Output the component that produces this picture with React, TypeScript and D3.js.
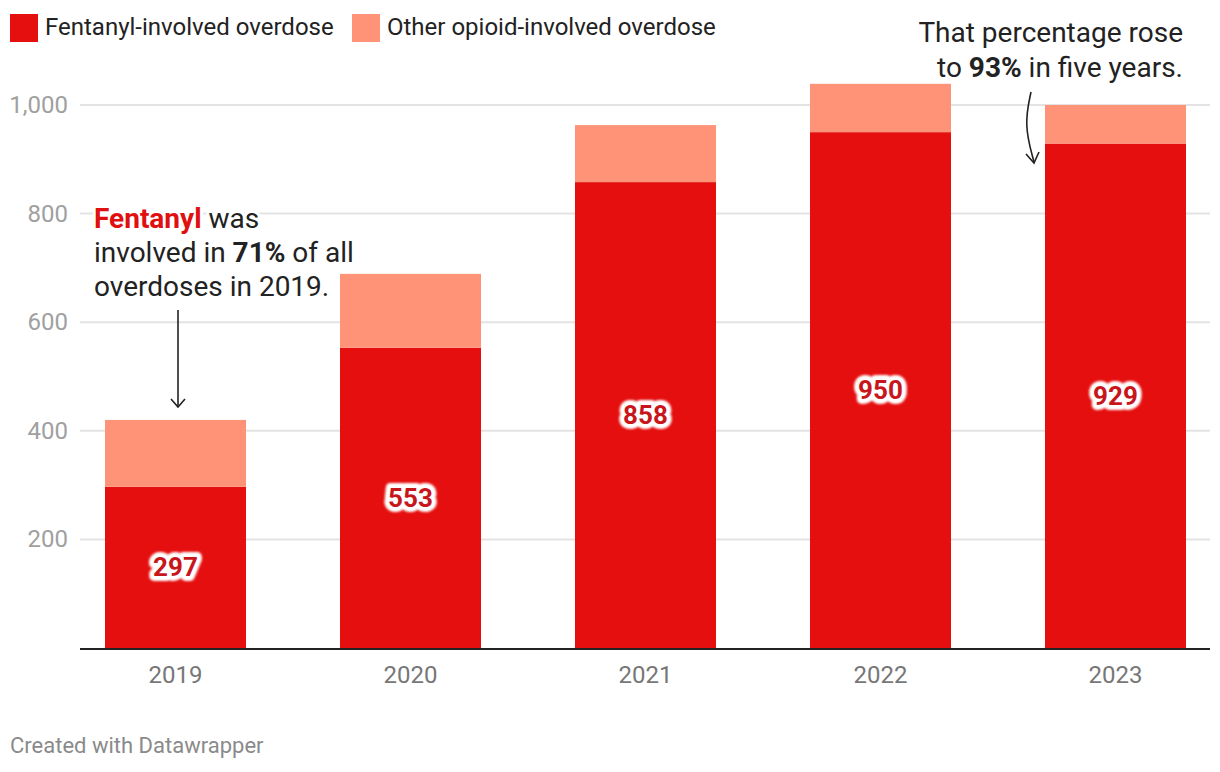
import React from "react";
import * as d3 from "d3";

const years = ["2019", "2020", "2021", "2022", "2023"];
const fentanyl = [297, 553, 858, 950, 929];
const otherOpioid = [123, 136, 105, 89, 71];
const yTicks = [200, 400, 600, 800, 1000];

const W = 1220;
const H = 772;
const FONT = "Roboto, 'Noto Sans', sans-serif";
const RED = "#e60f0f";
const SALMON = "#ff9378";

export default function App() {
  const x = d3.scaleBand<string>().domain(years).range([58, 1233]).paddingInner(0.4).paddingOuter(0.2);
  const y = d3.scaleLinear().domain([0, 1000]).range([648, 105]);

  const stackData = years.map((yr, i) => ({ year: yr, fentanyl: fentanyl[i], other: otherOpioid[i] }));
  const series = d3.stack<any>().keys(["fentanyl", "other"])(stackData);
  const colors = [RED, SALMON];

  const arrow2023 = d3.line<[number, number]>().curve(d3.curveBasis)([
    [1031, 92],
    [1024, 125],
    [1034, 162],
  ]);

  const halo = { paintOrder: "stroke" as const };

  return (
    <svg width={W} height={H} style={{ position: "absolute", left: 0, top: 0 }} fontFamily={FONT}>
      <defs>
        <filter id="soft" x="-20%" y="-40%" width="140%" height="180%">
          <feGaussianBlur stdDeviation="0.8" />
        </filter>
      </defs>
      <rect x={0} y={0} width={W} height={H} fill="#fff" />
      {/* legend */}
      <rect x={10} y={14} width={28} height={28} fill={RED} />
      <text x={45} y={35} fontSize={24} fill="#222">Fentanyl-involved overdose</text>
      <rect x={352} y={14} width={28} height={28} fill={SALMON} />
      <text x={387} y={35} fontSize={24} fill="#222">Other opioid-involved overdose</text>

      {/* grid */}
      {yTicks.map((t) => (
        <g key={t}>
          <line x1={80} x2={1210} y1={y(t)} y2={y(t)} stroke="#e3e3e3" strokeWidth={2} />
          <text x={68} y={y(t) + 8} fontSize={24} fill="#a0a0a0" textAnchor="end">
            {d3.format(",")(t)}
          </text>
        </g>
      ))}

      {/* bars */}
      {series.map((s, si) =>
        s.map((d, i) => (
          <rect
            key={si + "-" + i}
            x={x(years[i])}
            width={x.bandwidth()}
            y={y(d[1])}
            height={y(d[0]) - y(d[1])}
            fill={colors[si]}
          />
        ))
      )}

      {/* axis */}
      <line x1={80} x2={1210} y1={649} y2={649} stroke="#222" strokeWidth={2} />
      {years.map((yr) => (
        <text key={yr} x={x(yr)! + x.bandwidth() / 2} y={683} fontSize={24} fill="#777" textAnchor="middle">
          {yr}
        </text>
      ))}

      {/* value labels: halo layer then fill layer */}
      {years.map((yr, i) => (
        <g key={"l" + yr} fontSize={26} fontWeight={700} textAnchor="middle">
          <text
            x={x(yr)! + x.bandwidth() / 2}
            y={y(fentanyl[i] / 2) + 9}
            fill="#fff"
            stroke="#fff"
            strokeWidth={10}
            strokeLinejoin="round"
            filter="url(#soft)"
          >
            {fentanyl[i]}
          </text>
          <text x={x(yr)! + x.bandwidth() / 2} y={y(fentanyl[i] / 2) + 9} fill="#c8161d">
            {fentanyl[i]}
          </text>
        </g>
      ))}

      {/* annotation 2019 */}
      <g fontSize={28} fill="#222" stroke="#fff" strokeWidth={6} strokeLinejoin="round" style={halo}>
        <text x={94} y={228}>
          <tspan fill="#e01010" fontWeight={700}>Fentanyl</tspan> was
        </text>
        <text x={94} y={262}>
          involved in <tspan fontWeight={700}>71%</tspan> of all
        </text>
        <text x={94} y={296}>overdoses in 2019.</text>
      </g>
      <line x1={178} x2={178} y1={310} y2={407} stroke="#222" strokeWidth={1.6} />
      <path d="M171,399 L178,407 L185,399" fill="none" stroke="#222" strokeWidth={1.6} />

      {/* annotation 2023 */}
      <g fontSize={28} fill="#222" textAnchor="end" stroke="#fff" strokeWidth={6} strokeLinejoin="round" style={halo}>
        <text x={1183} y={42}>That percentage rose</text>
        <text x={1183} y={77}>
          to <tspan fontWeight={700}>93%</tspan> in five years.
        </text>
      </g>
      <path d={arrow2023 || ""} fill="none" stroke="#222" strokeWidth={1.6} />
      <path d="M1026,154 L1034,163 L1039,152" fill="none" stroke="#222" strokeWidth={1.6} />

      {/* footer */}
      <text x={10} y={753} fontSize={22} fill="#8a8a8a">Created with Datawrapper</text>
    </svg>
  );
}
